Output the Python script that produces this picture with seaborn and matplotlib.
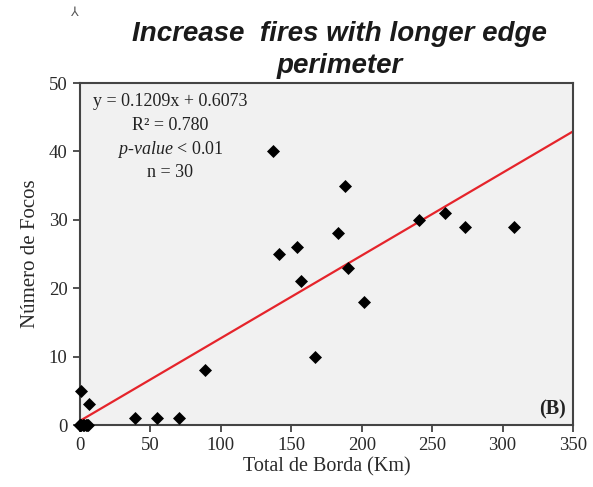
import numpy as np
import pandas as pd
import matplotlib
matplotlib.use("Agg")
import matplotlib.pyplot as plt
import seaborn as sns

# ---- data ----
borda_km = [0, 0, 0, 0, 0, 1, 2, 3, 4, 5, 6,
            0.5, 6.5, 39, 54.5, 70.5, 88.5,
            137, 141, 154, 157, 166.5, 183, 188, 190, 201.5,
            241, 259, 273, 308]
focos = [0, 0, 0, 0, 0, 0, 0, 0, 0, 0, 0,
         5, 3, 1, 1, 1, 8,
         40, 25, 26, 21, 10, 28, 35, 23, 18,
         30, 31, 29, 29]
slope = 0.1209
intercept = 0.6073
x_ticks = [0, 50, 100, 150, 200, 250, 300, 350]
y_ticks = [0, 10, 20, 30, 40, 50]

df = pd.DataFrame({"x": borda_km, "y": focos})
line_x = [0, 350]
line_df = pd.DataFrame({"x": line_x, "y": [slope * v + intercept for v in line_x]})

sns.set_theme(style="ticks")
plt.rcParams["font.family"] = ["Liberation Serif", "DejaVu Serif"]
plt.rcParams["mathtext.fontset"] = "custom"
plt.rcParams["mathtext.rm"] = "Liberation Serif"
plt.rcParams["mathtext.it"] = "Liberation Serif:italic"

fig = plt.figure(figsize=(5.93, 4.87), dpi=100)
fig.patch.set_facecolor("white")
ax = fig.add_axes([80 / 593, 1 - 425 / 487, (573 - 80) / 593, (425 - 83) / 487])
ax.set_facecolor("#f1f1f1")

sns.lineplot(data=line_df, x="x", y="y", ax=ax, color="#e5242b", linewidth=1.6, zorder=2)
sns.scatterplot(data=df, x="x", y="y", ax=ax, marker="D", s=44, color="black",
                edgecolor="black", linewidth=0, zorder=3, clip_on=False)

ax.set_xlim(0, 350)
ax.set_ylim(0, 50)
ax.set_xticks(x_ticks)
ax.set_yticks(y_ticks)
ax.tick_params(axis="both", labelsize=13.5, colors="#333333", length=5, width=1.2,
               direction="out", labelcolor="#2a2a2a", pad=4)
for side in ["left", "bottom", "top", "right"]:
    ax.spines[side].set_visible(True)
    ax.spines[side].set_color("#444444")
    ax.spines[side].set_linewidth(1.5)

ax.set_xlabel("Total de Borda (Km)", fontsize=14.5, color="#2a2a2a", labelpad=2)
ax.set_ylabel("Número de Focos", fontsize=15, color="#2a2a2a", labelpad=6)

# regression annotation
ann_x = 0.183
ax.text(ann_x, 0.945, "y = 0.1209x + 0.6073", transform=ax.transAxes, ha="center",
        va="center", fontsize=13, color="#222222")
ax.text(ann_x, 0.875, "R² = 0.780", transform=ax.transAxes, ha="center",
        va="center", fontsize=13, color="#222222")
ax.text(ann_x, 0.806, r"$p$-$value$ < 0.01", transform=ax.transAxes, ha="center",
        va="center", fontsize=13, color="#222222")
ax.text(ann_x, 0.737, "n = 30", transform=ax.transAxes, ha="center",
        va="center", fontsize=13, color="#222222")
ax.text(0.985, 0.045, "(B)", transform=ax.transAxes, ha="right", va="center",
        fontsize=14.5, fontweight="bold", color="#222222")

# title
fig.text(0.573, 1 - 34 / 487, "Increase  fires with longer edge", ha="center", va="center",
         fontsize=20, fontweight="bold", fontstyle="italic",
         family=["Liberation Sans", "DejaVu Sans"], color="#1a1a1a")
fig.text(0.573, 1 - 66 / 487, "perimeter", ha="center", va="center",
         fontsize=20, fontweight="bold", fontstyle="italic",
         family=["Liberation Sans", "DejaVu Sans"], color="#1a1a1a")
fig.text(75 / 593, 1 - 12 / 487, "⅄", ha="center", va="center", fontsize=9,
         family=["DejaVu Sans"], color="#555555")

fig.savefig("out.png", dpi=100, facecolor="white")
